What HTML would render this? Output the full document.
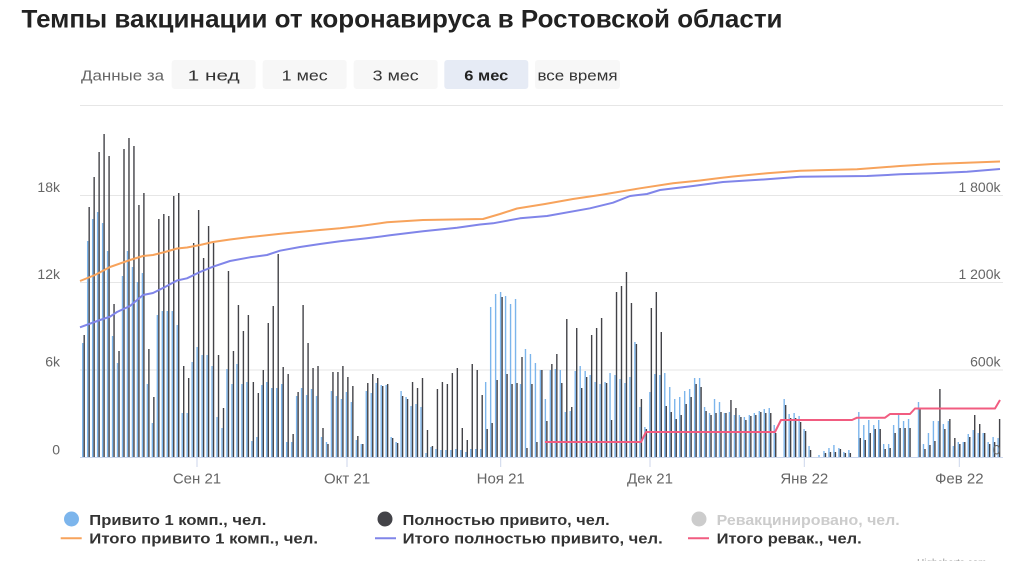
<!DOCTYPE html>
<html><head><meta charset="utf-8"><style>
html,body{margin:0;padding:0;background:#fff;}
svg{display:block;font-family:"Liberation Sans","DejaVu Sans",sans-serif;}
</style></head><body>
<svg id="s" width="1024" height="561" viewBox="0 0 1024 561" xmlns="http://www.w3.org/2000/svg">
<rect width="1024" height="561" fill="#fff"/>
<text x="21.5" y="27.5" font-size="25" font-weight="bold" fill="#222" textLength="761" lengthAdjust="spacingAndGlyphs">Темпы вакцинации от коронавируса в Ростовской области</text>
<text x="81" y="80.5" font-size="15" fill="#666" textLength="83" lengthAdjust="spacingAndGlyphs">Данные за</text>
<rect x="171.7" y="60" width="84" height="29" rx="3" fill="#f7f7f7"/>
<rect x="262.7" y="60" width="84" height="29" rx="3" fill="#f7f7f7"/>
<rect x="353.7" y="60" width="84" height="29" rx="3" fill="#f7f7f7"/>
<rect x="444.3" y="60" width="84" height="29" rx="3" fill="#e6ebf5"/>
<rect x="535" y="60" width="85" height="29" rx="3" fill="#f7f7f7"/>
<text x="213.7" y="80.5" font-size="15" fill="#333" text-anchor="middle" textLength="52" lengthAdjust="spacingAndGlyphs">1 нед</text>
<text x="304.7" y="80.5" font-size="15" fill="#333" text-anchor="middle" textLength="46" lengthAdjust="spacingAndGlyphs">1 мес</text>
<text x="395.7" y="80.5" font-size="15" fill="#333" text-anchor="middle" textLength="46" lengthAdjust="spacingAndGlyphs">3 мес</text>
<text x="486.3" y="80.5" font-size="15" font-weight="bold" fill="#222" text-anchor="middle" textLength="44" lengthAdjust="spacingAndGlyphs">6 мес</text>
<text x="577.5" y="80.5" font-size="15" fill="#333" text-anchor="middle" textLength="80" lengthAdjust="spacingAndGlyphs">все время</text>
<line x1="80" y1="105.5" x2="1003" y2="105.5" stroke="#e6e6e6" stroke-width="1"/>

<g stroke="#e6e6e6" stroke-width="1">
<line x1="80" y1="195.5" x2="1003" y2="195.5"/>
<line x1="80" y1="282.5" x2="1003" y2="282.5"/>
<line x1="80" y1="370" x2="1003" y2="370"/>
</g>

<g id="bars"></g>

<line x1="80" y1="457.5" x2="1003" y2="457.5" stroke="#ccd6eb" stroke-width="1"/>
<g stroke="#ccd6eb" stroke-width="1">
<line x1="197" y1="457" x2="197" y2="467"/>
<line x1="347" y1="457" x2="347" y2="467"/>
<line x1="500.7" y1="457" x2="500.7" y2="467"/>
<line x1="650" y1="457" x2="650" y2="467"/>
<line x1="804.3" y1="457" x2="804.3" y2="467"/>
<line x1="959.3" y1="457" x2="959.3" y2="467"/>
</g>

<polyline fill="none" stroke="#f7a35c" stroke-width="2" stroke-linejoin="round" points="80,281 95,275 110,267 130,260 143,256 153,255 165,252 177,248.5 187,247.5 200,245 213,242 230,239.5 250,237 283,233.5 320,230 340,228.3 360,226 387,222.3 423,220 483,219 500,214 517,208.5 545,204 573,199 600,195 640,188.3 673,183.3 700,180.5 720,178 733,176.5 767,173.3 800,170.7 857,169.3 900,166 933,164 1000,161.5"/>
<polyline fill="none" stroke="#8085e9" stroke-width="2" stroke-linejoin="round" points="80,327.3 100,320 110,316.7 117,312 130,306 143,295 153,293 165,287 177,280.5 187,278.3 200,272 213,266.7 230,261 250,257.3 267,255 280,250.7 300,247 320,244 340,241.3 367,238.3 390,235.3 423,231.3 457,227.7 480,224.5 493,223.3 520,218.3 547,216 590,208.3 613,202.7 630,196 647,194 660,190 693,186 723,182 767,179.3 800,176.7 867,176 900,174.3 933,173.3 967,171.7 1000,169"/>
<polyline fill="none" stroke="#f15c80" stroke-width="2" stroke-linejoin="round" points="545,442 641,442 646,432 775,432 781,420 852,420 857,417.7 885,417.7 890,414 910,414 915,408.5 995,408.5 1000,400"/>

<g font-size="14" fill="#666" text-anchor="end">
<text x="60" y="192">18k</text>
<text x="60" y="279">12k</text>
<text x="60" y="366.5">6k</text>
<text x="60" y="454.5">0</text>
<text x="1000.5" y="192">1 800k</text>
<text x="1000.5" y="279">1 200k</text>
<text x="1000.5" y="366.5">600k</text>
<text x="1000.5" y="454.5">0</text>
</g>

<g font-size="15" fill="#666" text-anchor="middle">
<text x="197" y="483.3">Сен 21</text>
<text x="347" y="483.3">Окт 21</text>
<text x="500.7" y="483.3">Ноя 21</text>
<text x="650" y="483.3">Дек 21</text>
<text x="804.3" y="483.3">Янв 22</text>
<text x="959.3" y="483.3">Фев 22</text>
</g>

<g font-size="15" font-weight="bold">
<circle cx="71.5" cy="519" r="7.5" fill="#7cb5ec"/>
<text x="89.3" y="525" fill="#333" textLength="177" lengthAdjust="spacingAndGlyphs">Привито 1 комп., чел.</text>
<circle cx="385" cy="519" r="7.5" fill="#434348"/>
<text x="402.7" y="525" fill="#333" textLength="207" lengthAdjust="spacingAndGlyphs">Полностью привито, чел.</text>
<circle cx="699" cy="519" r="7.5" fill="#cccccc"/>
<text x="716.7" y="525" fill="#cccccc" textLength="183" lengthAdjust="spacingAndGlyphs">Ревакцинировано, чел.</text>

<line x1="60.7" y1="538.3" x2="81.7" y2="538.3" stroke="#f7a35c" stroke-width="2"/>
<text x="89.3" y="543.5" fill="#333" textLength="228.7" lengthAdjust="spacingAndGlyphs">Итого привито 1 комп., чел.</text>
<line x1="375" y1="538.3" x2="396" y2="538.3" stroke="#8085e9" stroke-width="2"/>
<text x="402.7" y="543.5" fill="#333" textLength="260" lengthAdjust="spacingAndGlyphs">Итого полностью привито, чел.</text>
<line x1="688" y1="538.3" x2="709" y2="538.3" stroke="#f15c80" stroke-width="2"/>
<text x="716.7" y="543.5" fill="#333" textLength="145" lengthAdjust="spacingAndGlyphs">Итого ревак., чел.</text>
</g>
<text x="917" y="566" font-size="10" fill="#999">Highcharts.com</text>
</svg>
<script>
(function(){
var B=[114,216,238,245,234,206,121,94,181,206,190,175,184,73,34,142,146,146,146,132,44,44,95,110,102,102,91,40,29,88,73,93,73,75,16,20,72,75,69,69,73,15,15,61,69,62,68,61,20,15,66,61,58,65,55,17,13,66,64,74,72,72,20,15,66,60,51,53,50,4,10,8,7,7,7,8,7,5,8,8,8,75,150,163,165,161,153,158,73,108,103,94,87,58,87,88,87,45,46,86,91,86,82,75,73,75,84,82,78,74,80,115,50,30,65,83,82,84,70,58,60,66,68,79,79,50,44,58,55,44,45,42,42,40,42,44,46,48,49,32,0,58,43,44,41,28,11,0,2,6,9,12,9,5,7,0,45,32,37,32,37,13,13,32,42,36,38,0,55,13,24,36,36,33,36,11,15,15,23,27,24,24,15,20,19];
var D=[122,250,280,305,323,301,153,106,308,319,311,252,264,108,60,238,243,241,261,264,91,79,214,247,199,231,214,102,49,186,106,152,126,142,75,64,87,134,151,203,90,83,23,65,152,114,89,91,29,13,85,85,91,80,71,21,13,74,83,79,71,73,19,14,61,58,75,69,79,27,11,68,75,73,84,89,29,17,93,87,62,28,34,77,160,83,73,74,100,9,73,15,87,36,93,103,74,138,50,129,69,80,122,129,139,74,37,165,171,185,154,113,58,28,149,165,125,51,45,38,42,53,60,73,70,46,42,44,45,44,57,49,40,37,41,42,45,44,44,24,0,52,39,39,35,26,7,0,0,4,5,5,8,4,4,0,19,17,24,28,28,8,9,24,29,29,29,0,49,8,12,16,68,28,38,19,13,15,20,42,33,24,13,15,38];
var s='';
for(var i=0;i<B.length;i++){
 var x=82+4.975*i;
 if(B[i]>0) s+='<rect x="'+x.toFixed(2)+'" y="'+(457-B[i])+'" width="1.4" height="'+B[i]+'" fill="#7cb5ec"/>';
 if(D[i]>0) s+='<rect x="'+(x+1.5).toFixed(2)+'" y="'+(457-D[i])+'" width="1.4" height="'+D[i]+'" fill="#434348"/>';
}
document.getElementById('bars').innerHTML=s;
})();
</script>
</body></html>
